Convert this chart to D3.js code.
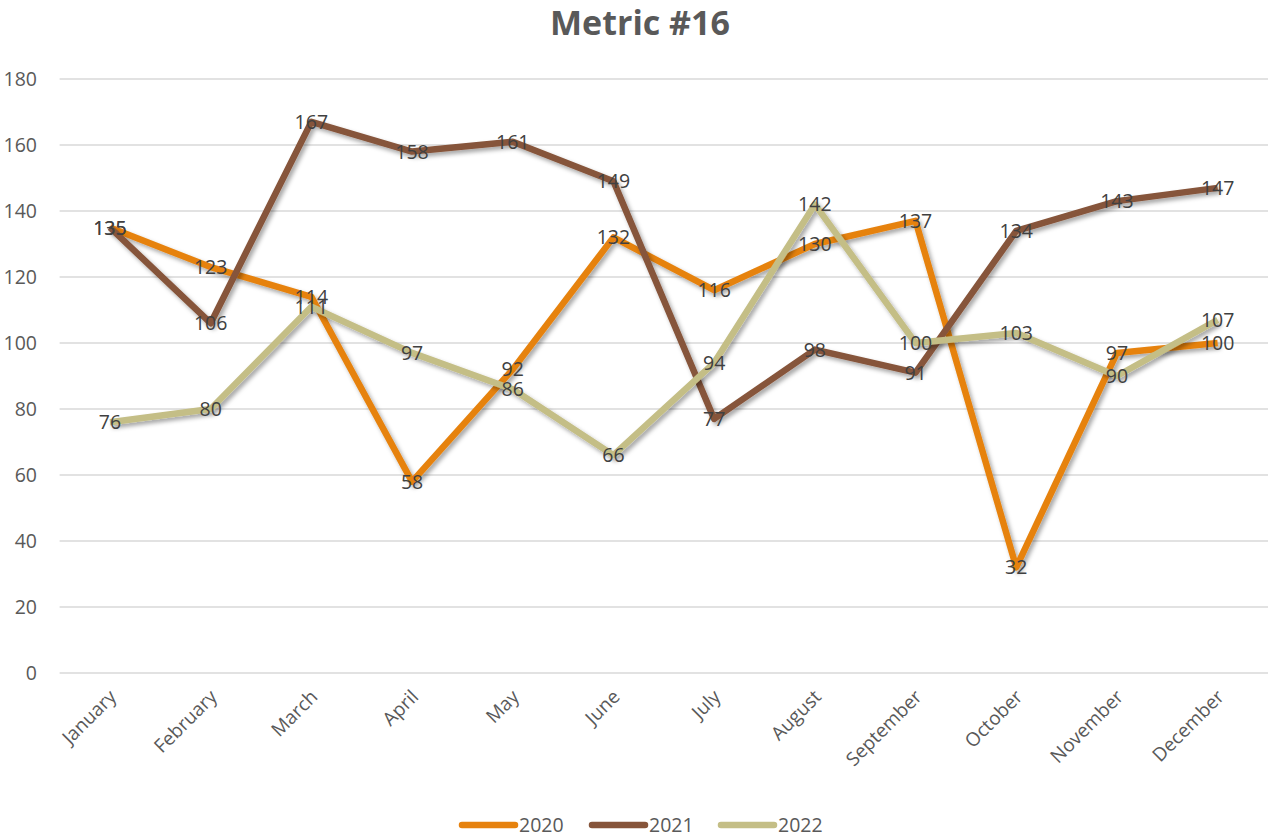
<!DOCTYPE html>
<html>
<head>
<meta charset="utf-8">
<script src="https://cdn.jsdelivr.net/npm/d3@7"></script>
<style>
  html, body { margin: 0; padding: 0; background: #fff; }
  svg { display: block; }
</style>
</head>
<body>
<svg id="chart" width="1268" height="839"></svg>
<script>
const months = ["January","February","March","April","May","June","July","August","September","October","November","December"];
const seriesNames = ["2020","2021","2022"];
const values2020 = [135,123,114,58,92,132,116,130,137,32,97,100];
const values2021 = [135,106,167,158,161,149,77,98,91,134,143,147];
const values2022 = [76,80,111,97,86,66,94,142,100,103,90,107];
const yTicks = [0,20,40,60,80,100,120,140,160,180];
const colors = ["#E6820E","#86543A","#C4BE86"];
const title = "Metric #16";

const allSeries = [values2020, values2021, values2022];
const W = 1268, H = 839;
const margin = {left: 59.6, right: 0, top: 79, bottom: 166};
const svg = d3.select("#chart");
const font = "'Open Sans', 'Liberation Sans', sans-serif";

const defs = svg.append("defs");
const f = defs.append("filter").attr("id","shadow").attr("x","-10%").attr("y","-10%").attr("width","120%").attr("height","120%");
f.append("feDropShadow").attr("dx",2.5).attr("dy",3).attr("stdDeviation",2).attr("flood-color","#000").attr("flood-opacity",0.35);

const x = d3.scalePoint().domain(months).range([margin.left, W - margin.right]).padding(0.5);
const y = d3.scaleLinear().domain([0,180]).range([H - margin.bottom, margin.top]);

// gridlines
svg.append("g").selectAll("line").data(yTicks).join("line")
  .attr("x1", margin.left).attr("x2", W - margin.right)
  .attr("y1", d => y(d)).attr("y2", d => y(d))
  .attr("stroke", "#d9d9d9").attr("stroke-width", 1.3);

// y axis labels
const yAxis = d3.axisLeft(y).tickValues(yTicks).tickSize(0).tickPadding(0);
const yg = svg.append("g").attr("transform", `translate(37,0)`).call(yAxis);
yg.select(".domain").remove();
yg.selectAll("text").attr("font-family", font).attr("font-size", 19.5).attr("fill", "#595959").attr("dy","0.35em");

// x axis labels
const xAxis = d3.axisBottom(x).tickSize(0).tickPadding(0);
const xg = svg.append("g").attr("transform", `translate(0,${H - margin.bottom})`).call(xAxis);
xg.select(".domain").remove();
xg.selectAll("text")
  .attr("font-family", font).attr("font-size", 19).attr("fill", "#595959")
  .attr("text-anchor", "end")
  .attr("dy", null).attr("y", null)
  .attr("transform", "translate(7,25) rotate(-45)");

// lines
const line = d3.line().x((d,i) => x(months[i])).y(d => y(d));
svg.append("g").selectAll("path").data(allSeries).join("path")
  .attr("d", d => line(d))
  .attr("fill","none")
  .attr("stroke", (d,i) => colors[i])
  .attr("stroke-width", 6.5)
  .attr("stroke-linejoin","round")
  .attr("filter","url(#shadow)");

// data labels
const lg = svg.append("g");
allSeries.forEach((vals, si) => {
  lg.selectAll(null).data(vals).join("text")
    .attr("x", (d,i) => x(months[i]))
    .attr("y", d => y(d))
    .attr("dy", "0.36em")
    .attr("text-anchor","middle")
    .attr("font-family", font).attr("font-size", 19.5).attr("fill", "#404040")
    .text(d => d);
});

// title
svg.append("text").attr("x", 640).attr("y", 35).attr("text-anchor","middle")
  .attr("font-family", font).attr("font-weight", 700).attr("font-size", 34).attr("fill","#595959")
  .text(title);

// legend
const legendX = [460, 590, 719];
const leg = svg.append("g");
seriesNames.forEach((name, i) => {
  const g = leg.append("g").attr("transform", `translate(${legendX[i]},825)`);
  g.append("line").attr("x1", 2).attr("x2", 55).attr("y1", 0).attr("y2", 0)
    .attr("stroke", colors[i]).attr("stroke-width", 6.5).attr("stroke-linecap","round");
  g.append("text").attr("x", 59).attr("y", 0).attr("dy","0.36em")
    .attr("font-family", font).attr("font-size", 19.5).attr("fill","#595959").text(name);
});
</script>
</body>
</html>
